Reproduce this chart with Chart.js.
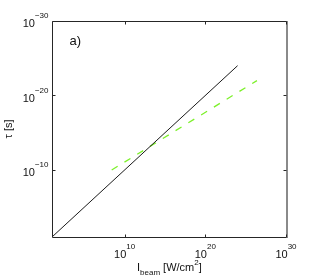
<!DOCTYPE html>
<html>
<head>
<meta charset="utf-8">
<script src="https://cdn.jsdelivr.net/npm/chart.js@4.4.1/dist/chart.umd.min.js"></script>
<style>
html,body{margin:0;padding:0;background:#fff;}
#wrap{width:316px;height:277px;position:relative;}
canvas{display:block;}
</style>
</head>
<body>
<div id="wrap"><canvas id="c" width="316" height="277"></canvas></div>
<script>
// Data (log-log)
const blackI = [10, 1e24];          // I_beam [W/cm^2]
const blackTau = [1e-1, 1e-24];     // tau [s]
const greenI = [2.5e8, 2.5e26];
const greenTau = [1e-10, 1e-22];

const xTickValues = [1e10, 1e20, 1e30];
const xTickExps = ['10', '20', '30'];
const yTickValues = [1e-30, 1e-20, 1e-10];
const yTickExps = ['\u221230', '\u221220', '\u221210'];

const xMin = 10, xMax = 1e30;
const yMin = 1e-30, yMax = 1e-1;

const FONT = '"Liberation Sans", Arial, Helvetica, sans-serif';
const BASE = 11, SUP = 8;

function pts(xs, ys){ return xs.map((x,i)=>({x:x, y:ys[i]})); }

const decor = {
  id: 'decor',
  afterDatasetsDraw(chart){
    const ctx = chart.ctx;
    const a = chart.chartArea;
    const xs = chart.scales.x, ys = chart.scales.y;
    const L = Math.round(a.left)+0.5, R = Math.round(a.right)+0.5;
    const T = Math.round(a.top)+0.5, B = Math.round(a.bottom)+0.5;
    ctx.save();
    // frame
    ctx.lineWidth = 1;
    ctx.strokeStyle = '#262626';
    ctx.beginPath();
    ctx.moveTo(R, T); ctx.lineTo(L, T); ctx.lineTo(L, B); ctx.lineTo(R, B);
    ctx.stroke();
    ctx.strokeStyle = '#8a8a8a';
    ctx.lineWidth = 2;
    ctx.beginPath();
    ctx.moveTo(R+0.5, T-0.5); ctx.lineTo(R+0.5, B+0.5);
    ctx.stroke();
    // ticks
    ctx.lineWidth = 1;
    ctx.strokeStyle = '#262626';
    ctx.beginPath();
    xTickValues.forEach(v=>{
      const px = Math.round(xs.getPixelForValue(v))+0.5;
      ctx.moveTo(px, B); ctx.lineTo(px, B-3);
      ctx.moveTo(px, T); ctx.lineTo(px, T+3);
    });
    yTickValues.forEach(v=>{
      const py = Math.round(ys.getPixelForValue(v))+0.5;
      ctx.moveTo(L, py); ctx.lineTo(L+3, py);
      ctx.moveTo(R, py); ctx.lineTo(R-3, py);
    });
    ctx.stroke();
    // tick labels
    ctx.fillStyle = '#111';
    ctx.textBaseline = 'middle';
    xTickValues.forEach((v,i)=>{
      const px = xs.getPixelForValue(v);
      ctx.font = BASE+'px ' + FONT;
      const wb = ctx.measureText('10').width;
      ctx.font = SUP+'px ' + FONT;
      const we = ctx.measureText(xTickExps[i]).width;
      const x0 = px - (wb + we)/2;
      ctx.textAlign = 'left';
      ctx.font = BASE+'px ' + FONT;
      ctx.fillText('10', x0, B + 17);
      ctx.font = SUP+'px ' + FONT;
      ctx.fillText(xTickExps[i], x0 + wb, B + 9);
    });
    yTickValues.forEach((v,i)=>{
      const py = ys.getPixelForValue(v);
      ctx.font = SUP+'px ' + FONT;
      const we = ctx.measureText(yTickExps[i]).width;
      ctx.font = BASE+'px ' + FONT;
      const wb = ctx.measureText('10').width;
      const xr = L - 4;
      ctx.textAlign = 'left';
      ctx.font = BASE+'px ' + FONT;
      ctx.fillText('10', xr - we - wb, py + 3);
      ctx.font = SUP+'px ' + FONT;
      ctx.fillText(yTickExps[i], xr - we, py - 5);
    });
    // axis titles
    const parts = [
      {t:'I', f:BASE, dy:0},
      {t:'beam', f:SUP, dy:5},
      {t:' [W/cm', f:BASE, dy:0},
      {t:'2', f:SUP, dy:-5},
      {t:']', f:BASE, dy:0}
    ];
    let tw = 0;
    parts.forEach(p=>{ ctx.font = p.f+'px '+FONT; p.w = ctx.measureText(p.t).width; tw += p.w; });
    let cx = 137;
    const baseY = B + 30;
    ctx.textAlign = 'left';
    parts.forEach(p=>{
      ctx.font = p.f+'px '+FONT;
      ctx.fillText(p.t, cx, baseY + p.dy);
      cx += p.w;
    });
    // y: tau [s]
    ctx.save();
    ctx.translate(9, 129);
    ctx.rotate(-Math.PI/2);
    ctx.textAlign = 'center';
    ctx.font = BASE+'px ' + FONT;
    ctx.fillText('\u03c4 [s]', 0, 0);
    ctx.restore();
    // panel label
    ctx.textAlign = 'left';
    ctx.font = '13px ' + FONT;
    ctx.fillText('a)', L + 17, T + 20);
    ctx.restore();
  }
};

new Chart(document.getElementById('c'), {
  type: 'scatter',
  data: {
    datasets: [
      {
        data: pts(blackI, blackTau),
        showLine: true,
        borderColor: '#1a1a1a',
        borderWidth: 1,
        pointRadius: 0,
        fill: false
      },
      {
        data: pts(greenI, greenTau),
        showLine: true,
        borderColor: '#7cf02a',
        borderWidth: 1.3,
        borderDash: [7, 8],
        pointRadius: 0,
        fill: false
      }
    ]
  },
  options: {
    responsive: false,
    devicePixelRatio: 1,
    animation: false,
    layout: { padding: { left: 52, top: 21, right: 30, bottom: 40 } },
    plugins: { legend: { display: false }, tooltip: { enabled: false } },
    scales: {
      x: { type: 'logarithmic', min: xMin, max: xMax, display: false },
      y: { type: 'logarithmic', min: yMin, max: yMax, reverse: true, display: false }
    }
  },
  plugins: [decor]
});
</script>
</body>
</html>
